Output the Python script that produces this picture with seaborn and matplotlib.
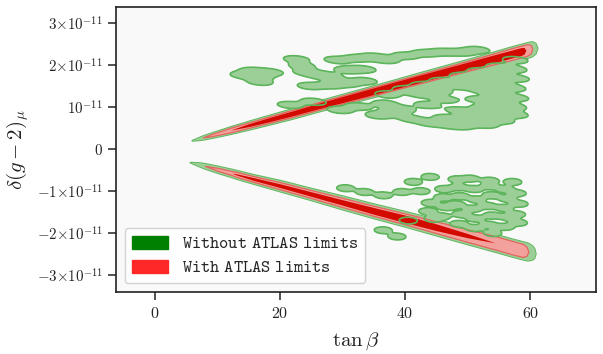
import numpy as np
import matplotlib
matplotlib.use("Agg")
import matplotlib.pyplot as plt
from matplotlib.patches import Patch
import seaborn as sns

nan = np.nan

# delta(g-2)_mu is in units of 1e-11 throughout
# --- upper branch band (centre line + vertical half widths per layer)
up_tb = [5.9, 7.0, 7.7, 9.0, 12.0, 15.0, 18.0, 22.0, 26.0, 30.0, 34.0, 38.0, 42.0,
         46.0, 50.0, 54.0, 57.0, 58.5, 59.0, 59.3, 59.8, 60.1, 60.3, 60.8, 61.1]
up_mid = [0.21, 0.25, 0.28, 0.33, 0.45, 0.57, 0.69, 0.85, 1.02, 1.18, 1.34, 1.50, 1.66,
          1.82, 1.98, 2.14, 2.26, 2.32, 2.34, 2.35, 2.37, 2.38, 2.39, 2.40, 2.41]
up_green = [0, .03, .045, .06, .085, .10, .11, .12, .125, .13, .135, .14, .15,
            .155, .16, .17, .18, .18, .18, .18, .18, .175, .17, .12, 0]
up_light = [nan, nan, 0, .025, .055, .065, .075, .085, .09, .095, .10, .105, .11,
            .115, .12, .13, .14, .14, .14, .14, .123, .087, 0, nan, nan]
up_dark = [nan, nan, nan, nan, 0, .035, .05, .06, .068, .075, .08, .085, .09,
           .09, .092, .095, .095, .095, .08, 0, nan, nan, nan, nan, nan]

# --- lower branch band
lo_tb = [5.6, 7.0, 8.0, 10.0, 12.3, 13.0, 16.0, 20.0, 25.0, 30.0, 35.0, 40.0, 45.0,
         50.0, 54.4, 57.0, 58.8, 59.4, 59.7, 60.3, 60.6, 60.8]
lo_mid = [-0.31, -0.36, -0.40, -0.48, -0.57, -0.60, -0.72, -0.87, -1.07, -1.27, -1.47,
          -1.66, -1.86, -2.06, -2.23, -2.34, -2.41, -2.43, -2.44, -2.46, -2.47, -2.48]
lo_green = [0, .04, .06, .08, .095, .10, .11, .13, .14, .16, .17, .18, .19,
            .20, .21, .21, .21, .21, .20, .16, .11, 0]
lo_light = [nan, nan, 0, .035, .05, .06, .07, .085, .095, .11, .12, .13, .14,
            .15, .16, .16, .157, .107, 0, nan, nan, nan]
lo_dark = [nan, nan, nan, nan, 0, .015, .035, .045, .055, .065, .08, .09, .08,
           .05, 0, nan, nan, nan, nan, nan, nan, nan]

# --- scattered points without ATLAS limits (upper cloud)
upc_tb = [14.1, 15.7, 16.8, 18.4, 16.8, 22.6, 23.5, 24.3, 26.4, 28.0, 29.1, 32.3, 35.0,
          30.7, 33.3, 24.8, 28.0, 30.7, 33.5, 21.6, 25.3, 29.6, 32.5, 35.7,
          37.0, 40.0, 43.2, 46.1, 49.0, 51.5,
          37.2, 36.8, 38.0, 40.1, 39.6, 41.0,
          43.0, 42.6, 43.5, 44.0,
          46.0, 45.5, 46.4, 46.5, 47.0,
          49.2, 48.8, 48.6, 49.8, 49.0,
          52.0, 51.6, 52.4, 51.8, 52.5, 52.0, 52.8,
          55.0, 54.6, 55.3, 54.8, 55.5, 54.9, 55.4,
          57.6, 57.4, 57.8, 57.2, 57.7, 57.3, 57.6]
upc_dg = [1.76, 1.86, 1.74, 1.83, 1.60, 2.14, 1.98, 1.83, 1.76, 1.72, 2.12, 2.16, 2.20,
          1.88, 1.90, 1.50, 1.52, 1.56, 1.62, 1.05, 1.13, 0.93, 1.02, 0.80,
          2.12, 2.22, 2.28, 2.31, 2.30, 2.36,
          1.30, 1.08, 0.88, 1.42, 0.95, 0.72,
          1.52, 1.30, 1.05, 0.62,
          1.62, 1.38, 1.18, 0.74, 0.58,
          1.74, 1.50, 0.92, 0.70, 0.55,
          1.85, 1.62, 1.40, 1.18, 0.98, 0.78, 0.58,
          1.96, 1.74, 1.52, 1.30, 1.08, 0.88, 0.68,
          2.12, 1.90, 1.68, 1.45, 1.22, 1.00, 0.82]

# --- lower cloud
loc_tb = [30.5, 33.5, 36.5, 39.5, 42.5, 41.3, 44.0, 48.3, 50.4, 53.5, 57.2,
          36.5, 38.7, 40.5,
          44.0, 43.6, 44.5,
          46.2, 46.0, 46.6, 45.8,
          48.5, 48.8, 48.2, 49.0, 48.6,
          51.0, 51.4, 50.8, 51.2, 51.0,
          53.5, 53.8, 53.2, 53.9, 53.4, 54.0,
          56.0, 56.3, 55.8, 56.4, 56.0,
          57.9, 58.2, 57.8, 58.1]
loc_dg = [-0.93, -1.02, -1.10, -1.02, -1.00, -0.78, -0.66, -0.72, -0.70, -0.75, -0.78,
          -1.93, -2.08, -1.70,
          -1.28, -1.48, -1.66,
          -0.95, -1.15, -1.38, -1.60,
          -0.90, -1.12, -1.32, -1.55, -1.78,
          -0.95, -1.20, -1.42, -1.65, -1.88,
          -0.88, -1.10, -1.35, -1.58, -1.80, -2.00,
          -0.95, -1.18, -1.40, -1.62, -1.85,
          -1.05, -1.30, -1.55, -1.75]

xticks = [0, 20, 40, 60]
xtick_labels = ["$0$", "$20$", "$40$", "$60$"]
yticks = [-3, -2, -1, 0, 1, 2, 3]
ytick_labels = [r"$-3{\times}10^{-11}$", r"$-2{\times}10^{-11}$", r"$-1{\times}10^{-11}$",
                "$0$", r"$10^{-11}$", r"$2{\times}10^{-11}$", r"$3{\times}10^{-11}$"]
labels = [r"$\mathtt{Without\ ATLAS\ limits}$", r"$\mathtt{With\ ATLAS\ limits}$"]

GREEN_FILL = "#9ccf98"
GREEN_EDGE = "#5db55b"
LIGHT_RED = "#f3a19c"
RED_EDGE = "#e4645f"
DARK_RED = "#d20a00"

sns.set_style("ticks")
plt.rcParams["mathtext.fontset"] = "cm"
plt.rcParams["font.family"] = ["DejaVu Serif"]

fig = plt.figure(figsize=(6.03, 3.54), dpi=100)
ax = fig.add_axes([0.1924, 0.1751, 0.796, 0.805])
ax.set_facecolor("#f9f9f9")

clouds = [(upc_tb, upc_dg), (loc_tb, loc_dg)]
bands = [(up_tb, up_mid, up_green, up_light, up_dark),
         (lo_tb, lo_mid, lo_green, lo_light, lo_dark)]
lev = 0.14
bw = 0.24

# green outlines underneath
for cx, cy in clouds:
    sns.kdeplot(x=cx, y=cy, levels=[lev], color=GREEN_EDGE, colors=[GREEN_EDGE],
                linewidths=1.2, bw_adjust=bw, gridsize=300, ax=ax)
for tb, mid, g, l, d in bands:
    tb, mid, g = np.array(tb), np.array(mid), np.array(g)
    ax.fill_between(tb, mid - g, mid + g, facecolor=GREEN_EDGE, edgecolor=GREEN_EDGE, lw=1.3)
# green fills
for cx, cy in clouds:
    sns.kdeplot(x=cx, y=cy, levels=[lev, 1], color=GREEN_FILL, colors=[GREEN_FILL],
                fill=True, bw_adjust=bw, gridsize=300, ax=ax)
for tb, mid, g, l, d in bands:
    tb, mid, g = np.array(tb), np.array(mid), np.array(g)
    ax.fill_between(tb, mid - g, mid + g, facecolor=GREEN_FILL, lw=0)
# ATLAS-allowed bands
for tb, mid, g, l, d in bands:
    tb, mid, l, d = np.array(tb), np.array(mid), np.array(l), np.array(d)
    ax.fill_between(tb, mid - l, mid + l, facecolor=LIGHT_RED, edgecolor=RED_EDGE, lw=0.9)
    ax.fill_between(tb, mid - d, mid + d, facecolor=DARK_RED, lw=0)

ax.set_xlim(-6.2, 70.5)
ax.set_ylim(-3.4, 3.38)
ax.set_xticks(xticks)
ax.set_xticklabels(xtick_labels)
ax.set_yticks(yticks)
ax.set_yticklabels(ytick_labels)
ax.tick_params(length=5.5, width=1.1, pad=4, color="#222222", labelcolor="#222222")
ax.tick_params(axis="x", labelsize=11.5)
ax.tick_params(axis="y", labelsize=10.8)
for s in ax.spines.values():
    s.set_color("#222222")
    s.set_linewidth(1.2)
ax.set_xlabel(r"$\tan\beta$", fontsize=15, color="#222222", labelpad=6)
ax.set_ylabel(r"$\delta(g-2)_\mu$", fontsize=15, color="#222222", labelpad=4)

handles = [Patch(facecolor="#008000", edgecolor="#008000"),
           Patch(facecolor="#ff2828", edgecolor="#ff2828")]
ax.legend(handles, labels, loc="lower left", fontsize=12.6, handlelength=2.06,
          handleheight=0.75, labelspacing=0.4, frameon=True, fancybox=True,
          framealpha=0.85, edgecolor="#cccccc", borderaxespad=0.5)

fig.savefig("out.png", dpi=100)
